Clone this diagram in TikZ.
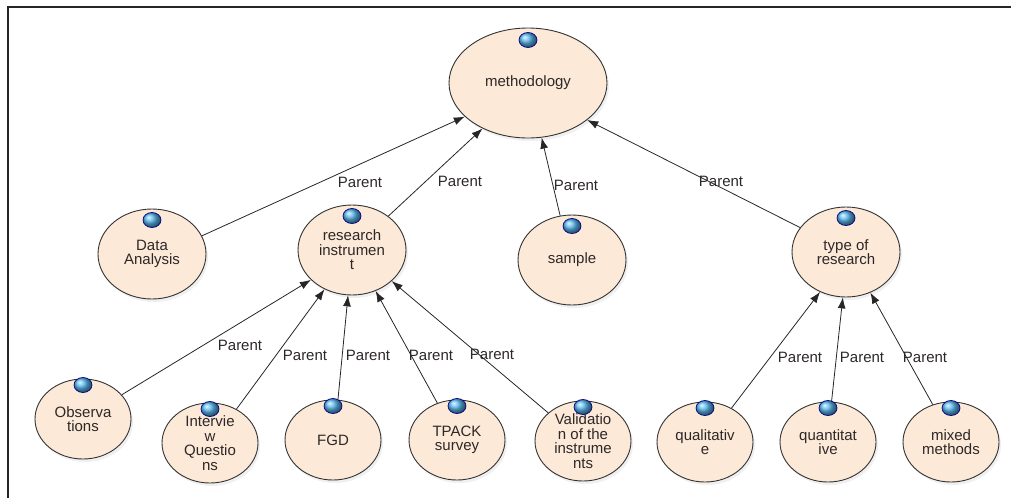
\documentclass[tikz,border=0pt]{standalone}
\usepackage{fontspec}
\setmainfont{Liberation Sans}
\usetikzlibrary{shapes.geometric,shadows,arrows.meta}
\definecolor{nodefill}{RGB}{252,233,216}
\definecolor{txt}{RGB}{45,40,40}
\definecolor{ballblue}{RGB}{90,185,240}
\begin{document}
\begin{tikzpicture}[x=1pt,y=-1pt,
  concept/.style={ellipse, draw=black!80, line width=0.9pt, fill=nodefill, inner sep=0pt,
    align=center, text=txt, font=\fontsize{15}{14.5}\selectfont,
    drop shadow={shadow xshift=2pt, shadow yshift=-3pt, opacity=0.12}},
  small/.style={concept, minimum width=96pt, minimum height=80pt},
  mid/.style={concept, minimum width=108pt, minimum height=90pt},
  ballnode/.style={ellipse, minimum width=18pt, minimum height=15pt, inner sep=0pt,
    draw=blue!50!black, line width=0.7pt, ball color=ballblue},
  par/.style={draw=black!85, line width=0.8pt, -{Latex[length=11pt,width=8pt]}},
  lbl/.style={font=\fontsize{15}{15}\selectfont, text=txt, inner sep=1pt}
]
\useasboundingbox (0,0) rectangle (1011,498);
\draw[line width=1.8pt, black!85] (8,498) -- (8,7) -- (1011,7);

% nodes
\node[concept, minimum width=158pt, minimum height=110pt] (meth) at (528,83) {methodology};
\node[mid] (da) at (152,254) {Data\\Analysis};
\node[mid] (ri) at (352,250) {research\\instrumen\\t};
\node[mid] (sam) at (572,260) {sample};
\node[mid] (tor) at (846,252) {type of\\research};
\node[small] (obs) at (83,419) {Observa\\tions};
\node[small] (iq) at (210,443) {Intervie\\w\\Questio\\ns};
\node[small] (fgd) at (333,440) {FGD};
\node[small] (tp) at (457,440) {TPACK\\survey};
\node[small] (val) at (583,441) {Validatio\\n of the\\instrume\\nts};
\node[small] (qual) at (705,442) {qualitativ\\e};
\node[small] (quan) at (828,442) {quantitat\\ive};
\node[small] (mix) at (951,442) {mixed\\methods};

% balls
\node[ballnode] (b-meth) at ([yshift=43pt]meth.center) {};
\foreach \n in {da,ri,sam,tor,obs,iq,fgd,tp,val,qual,quan,mix}
  \node[ballnode] (b-\n) at ([yshift=34pt]\n.center) {};

% connectors
\draw[par] (da.20) -- (meth.208);
\draw[par] (ri.43) -- (meth.225);
\draw[par] (sam.105) -- (meth.284);
\draw[par] (tor.152) -- (meth.328);
\draw[par] (obs.32) -- (ri.216);
\draw[par] (iq.52) -- (ri.235);
\draw[par] (fgd.83) -- (ri.265);
\draw[par] (tp.118) -- (ri.300);
\draw[par] (val.141) -- (ri.322);
\draw[par] (qual.52) -- (tor.237);
\draw[par] (quan.85) -- (tor.266);
\draw[par] (mix.116) -- (tor.301);

% labels
\node[lbl] (l1) at (360,182) {Parent};
\node[lbl] (l2) at (460,181) {Parent};
\node[lbl] (l3) at (576,185) {Parent};
\node[lbl] (l4) at (721,181) {Parent};
\node[lbl] (l5) at (240,345) {Parent};
\node[lbl] (l6) at (305,355) {Parent};
\node[lbl] (l7) at (368,355) {Parent};
\node[lbl] (l8) at (431,355) {Parent};
\node[lbl] (l9) at (492,354) {Parent};
\node[lbl] (l10) at (800,357) {Parent};
\node[lbl] (l11) at (862,357) {Parent};
\node[lbl] (l12) at (925,357) {Parent};
\end{tikzpicture}
\end{document}
